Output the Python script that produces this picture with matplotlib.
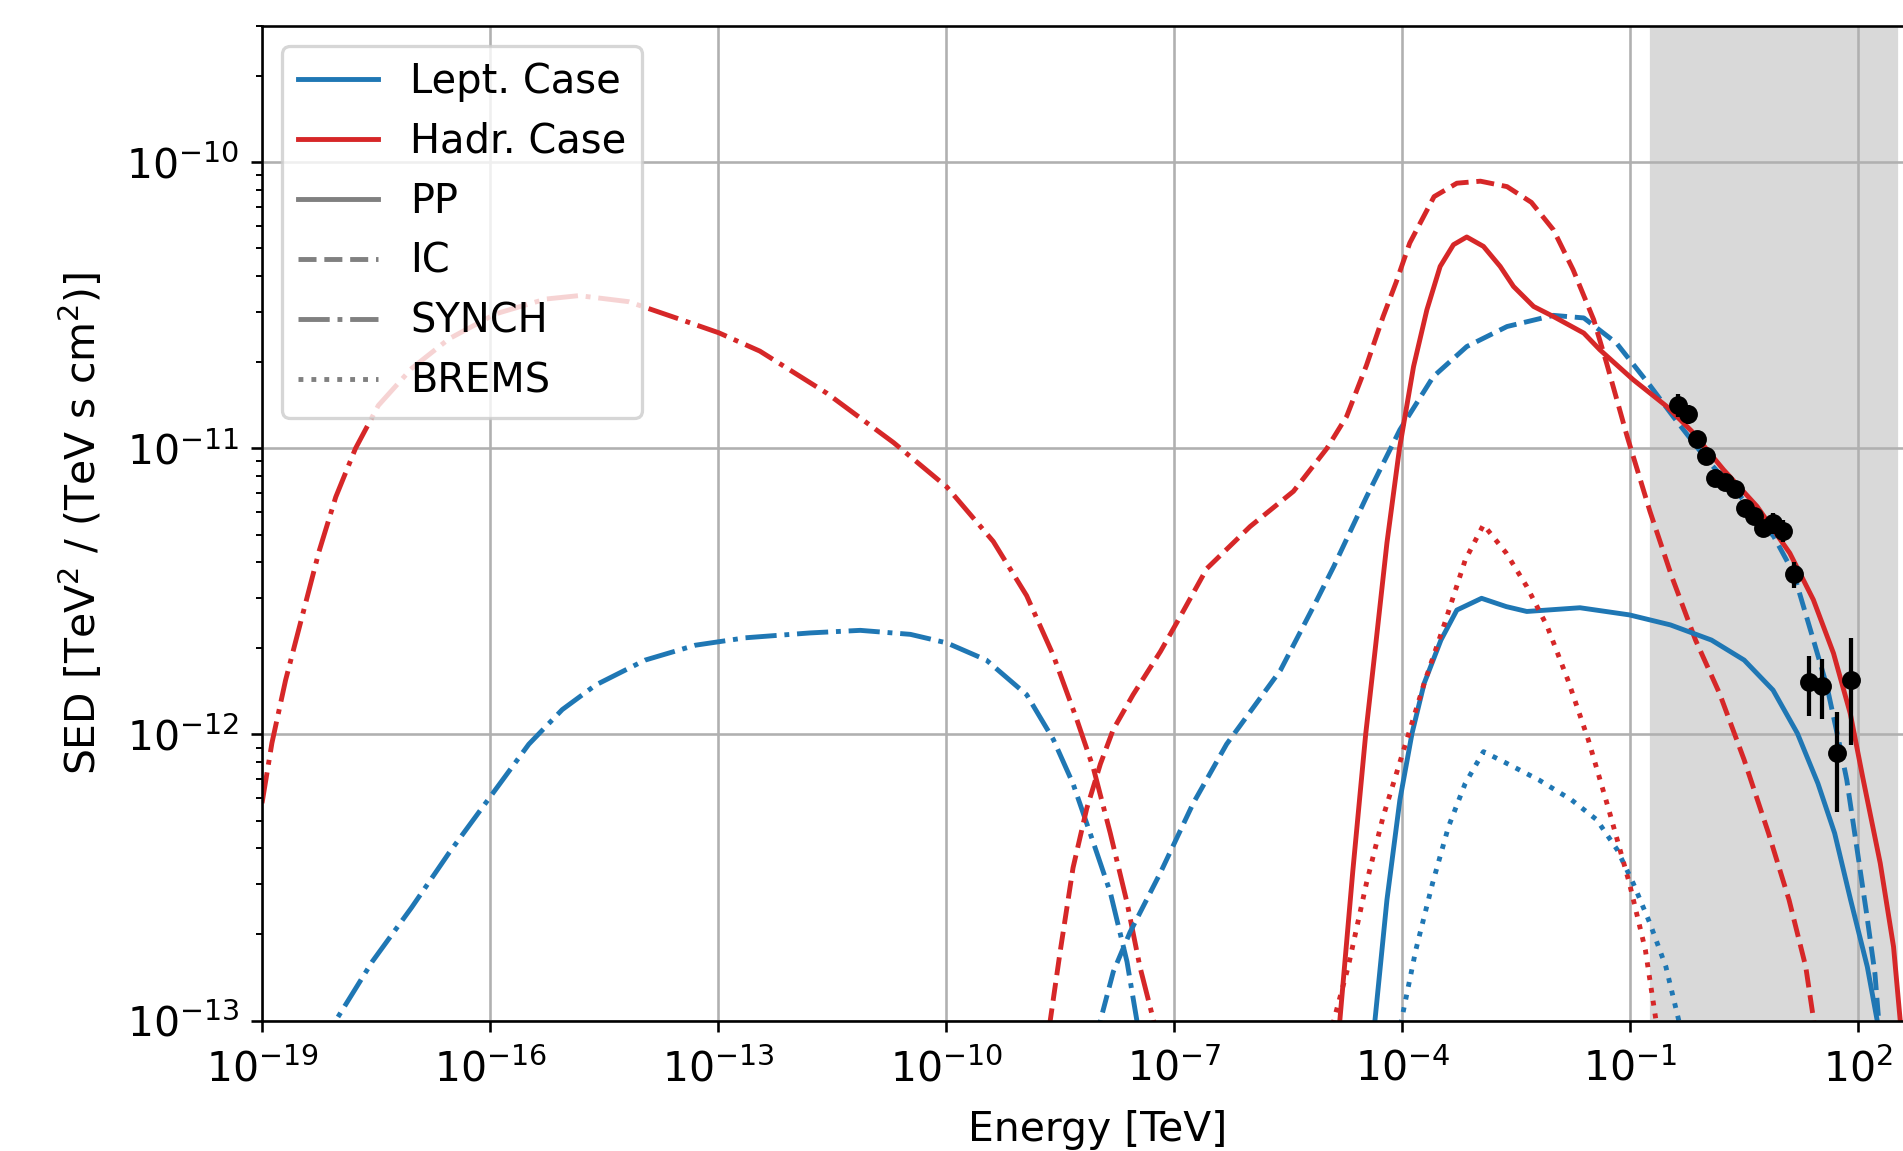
import numpy as np
import matplotlib
matplotlib.use("Agg")
import matplotlib.pyplot as plt
from matplotlib.lines import Line2D
from matplotlib.ticker import NullLocator

# curves, as (log10 E [TeV], log10 SED)
lept_synch_logE = [-18.1, -18.03, -17.55, -17.03, -16.54, -15.99, -15.49, -15.05, -14.61, -13.96,
                   -13.3, -12.64, -11.79, -11.13, -10.47, -9.99, -9.47, -8.94, -8.59, -8.33,
                   -8.06, -7.84, -7.62, -7.49, -7.4]
lept_synch_logS = [-13.12, -13.0, -12.794, -12.604, -12.414, -12.215, -12.034, -11.913, -11.827, -11.74,
                   -11.688, -11.662, -11.645, -11.636, -11.65, -11.68, -11.74, -11.861, -12.017, -12.172,
                   -12.38, -12.552, -12.794, -13.0, -13.15]

hadr_synch_logE = [-19.0, -18.87, -18.69, -18.47, -18.25, -18.03, -17.77, -17.47, -17.03, -16.54,
                   -15.93, -15.27, -14.83, -14.18, -13.52, -12.99, -12.45, -11.57, -10.69, -9.99,
                   -9.38, -8.94, -8.59, -8.28, -8.06, -7.84, -7.62, -7.45, -7.27, -7.18]
hadr_synch_logS = [-12.24, -12.03, -11.81, -11.585, -11.36, -11.17, -11.0, -10.85, -10.72, -10.617,
                   -10.53, -10.478, -10.466, -10.487, -10.547, -10.596, -10.66, -10.807, -10.98, -11.135,
                   -11.325, -11.515, -11.723, -11.948, -12.12, -12.345, -12.587, -12.812, -13.0, -13.15]

lept_ic_logE = [-8.05, -7.97, -7.8, -7.58, -7.18, -6.75, -6.31, -5.6, -5.12, -4.9,
                -4.47, -4.03, -3.59, -3.15, -2.62, -2.01, -1.61, -1.18, -0.74, -0.43,
                0.01, 0.45, 0.89, 1.15, 1.41, 1.59, 1.76, 1.85, 1.98, 2.11,
                2.22, 2.27, 2.3]
lept_ic_logS = [-13.15, -13.0, -12.829, -12.691, -12.483, -12.241, -12.034, -11.775, -11.529, -11.413,
                -11.17, -10.935, -10.749, -10.644, -10.574, -10.535, -10.544, -10.632, -10.78, -10.89,
                -11.04, -11.168, -11.308, -11.436, -11.669, -11.833, -12.042, -12.159, -12.392, -12.625,
                -12.835, -13.0, -13.1]

hadr_ic_logE = [-8.7, -8.63, -8.5, -8.33, -8.15, -7.97, -7.8, -7.54, -7.18, -6.92,
                -6.57, -6.0, -5.43, -4.99, -4.73, -4.47, -4.25, -4.08, -3.9, -3.58,
                -3.28, -2.97, -2.62, -2.3, -2.01, -1.75, -1.48, -1.31, -1.04, -0.74,
                -0.45, -0.14, 0.175, 0.5, 0.82, 1.09, 1.31, 1.415, 1.5]
hadr_ic_logS = [-13.2, -13.0, -12.76, -12.466, -12.259, -12.103, -11.982, -11.861, -11.71, -11.588,
                -11.42, -11.273, -11.15, -11.0, -10.888, -10.71, -10.539, -10.42, -10.282, -10.12,
                -10.073, -10.066, -10.085, -10.14, -10.236, -10.376, -10.55, -10.702, -10.958, -11.22,
                -11.45, -11.67, -11.856, -12.089, -12.345, -12.578, -12.812, -13.0, -13.15]

lept_pp_logE = [-4.4, -4.358, -4.2, -4.03, -3.87, -3.71, -3.49, -3.28, -2.955, -2.63,
                -2.36, -2.09, -1.66, -1.01, -0.47, 0.07, 0.5, 0.88, 1.2, 1.47,
                1.69, 1.9, 2.12, 2.25, 2.3]
lept_pp_logS = [-13.15, -13.0, -12.578, -12.229, -11.996, -11.821, -11.67, -11.565, -11.524, -11.553,
                -11.57, -11.565, -11.557, -11.582, -11.617, -11.67, -11.74, -11.845, -11.996, -12.171,
                -12.345, -12.578, -12.812, -13.0, -13.1]

hadr_pp_logE = [-4.9, -4.82, -4.65, -4.48, -4.355, -4.2, -4.035, -3.85, -3.675, -3.5,
                -3.325, -3.15, -2.93, -2.71, -2.535, -2.27, -2.01, -1.61, -1.4, -0.96,
                -0.52, -0.19, 0.23, 0.67, 1.1, 1.41, 1.675, 1.895, 2.06, 2.29,
                2.465, 2.553, 2.6]
hadr_pp_logS = [-13.25, -13.0, -12.48, -12.0, -11.704, -11.33, -11.0, -10.714, -10.516, -10.364,
                -10.288, -10.261, -10.294, -10.364, -10.434, -10.504, -10.539, -10.597, -10.655, -10.76,
                -10.853, -10.94, -11.075, -11.203, -11.366, -11.529, -11.716, -11.926, -12.15, -12.45,
                -12.742, -13.0, -13.15]

lept_brems_logE = [-4.05, -4.01, -3.82, -3.6, -3.39, -3.17, -2.93, -2.63, -2.2, -1.77,
                   -1.44, -1.17, -0.96, -0.74, -0.53, -0.36, -0.3]
lept_brems_logS = [-13.15, -13.0, -12.753, -12.52, -12.322, -12.171, -12.06, -12.1, -12.159, -12.229,
                   -12.298, -12.403, -12.52, -12.66, -12.812, -13.0, -13.1]

hadr_brems_logE = [-4.95, -4.9, -4.71, -4.47, -4.25, -3.98, -3.71, -3.44, -3.17, -2.93,
                   -2.63, -2.36, -2.09, -1.82, -1.55, -1.28, -1.01, -0.8, -0.66, -0.6]
hadr_brems_logS = [-13.15, -13.0, -12.812, -12.52, -12.287, -12.054, -11.821, -11.611, -11.39, -11.267,
                   -11.366, -11.483, -11.623, -11.809, -12.019, -12.264, -12.52, -12.753, -13.0, -13.1]

# measured flux points
data_E = [0.42, 0.574, 0.75, 1.0, 1.31, 1.78, 2.41, 3.26, 4.2, 5.57, 7.55, 10.2, 14.4,
          22.2, 33.9, 52.4, 80.7]
data_sed = [1.419e-11, 1.318e-11, 1.079e-11, 9.38e-12, 7.91e-12, 7.66e-12, 7.21e-12, 6.21e-12,
            5.81e-12, 5.28e-12, 5.48e-12, 5.15e-12, 3.64e-12, 1.52e-12, 1.48e-12, 8.65e-13, 1.55e-12]
data_err = [1.3e-12, 1.0e-12, 0.7e-12, 0.5e-12, 0.4e-12, 0.4e-12, 0.4e-12, 0.35e-12,
            0.3e-12, 0.35e-12, 0.45e-12, 0.45e-12, 0.38e-12, 0.36e-12, 0.35e-12, 0.33e-12, 0.63e-12]

band_lo, band_hi = 0.19, 316.0

plt.rcParams['font.size'] = 12.6

fig = plt.figure(figsize=(1903.2 / 234, 1151.2 / 234), dpi=234)
ax = fig.add_axes([262 / 1903, 130.4 / 1151, 1672 / 1903, 994.6 / 1151])

blue, red = 'C0', 'C3'


def curve(logE, logS, color, ls):
    ax.plot(10.0 ** np.array(logE), 10.0 ** np.array(logS), color=color, ls=ls, lw=1.5)


curve(lept_synch_logE, lept_synch_logS, blue, '-.')
curve(hadr_synch_logE, hadr_synch_logS, red, '-.')
curve(lept_ic_logE, lept_ic_logS, blue, '--')
curve(hadr_ic_logE, hadr_ic_logS, red, '--')
curve(lept_pp_logE, lept_pp_logS, blue, '-')
curve(hadr_pp_logE, hadr_pp_logS, red, '-')
curve(lept_brems_logE, lept_brems_logS, blue, ':')
curve(hadr_brems_logE, hadr_brems_logS, red, ':')

ax.errorbar(data_E, data_sed, yerr=data_err, fmt='o', color='k', ms=4.8,
            elinewidth=1.3, zorder=5)

ax.axvspan(band_lo, band_hi, color='#d9d9d9', zorder=0)

ax.set_xscale('log')
ax.set_yscale('log')
ax.set_xlim(1e-19, 1e3)
ax.set_ylim(1e-13, 3e-10)
ax.set_xticks(10.0 ** np.arange(-19, 3, 3))
ax.xaxis.set_minor_locator(NullLocator())
ax.tick_params(axis='x', which='major', pad=5.2)
ax.grid(True)

ax.set_xlabel('Energy [TeV]', labelpad=6.0)
ax.set_ylabel(r'SED [TeV$^2$ / (TeV s cm$^2$)]', labelpad=6.5)

handles = [Line2D([], [], color=blue, ls='-', lw=1.5),
           Line2D([], [], color=red, ls='-', lw=1.5),
           Line2D([], [], color='gray', ls='-', lw=1.5),
           Line2D([], [], color='gray', ls='--', lw=1.5),
           Line2D([], [], color='gray', ls='-.', lw=1.5),
           Line2D([], [], color='gray', ls=':', lw=1.5)]
labels = ['Lept. Case', 'Hadr. Case', 'PP', 'IC', 'SYNCH', 'BREMS']
ax.legend(handles, labels, loc='upper left', fontsize=12.3, handletextpad=0.8)

fig.savefig('out.png', dpi=234)
